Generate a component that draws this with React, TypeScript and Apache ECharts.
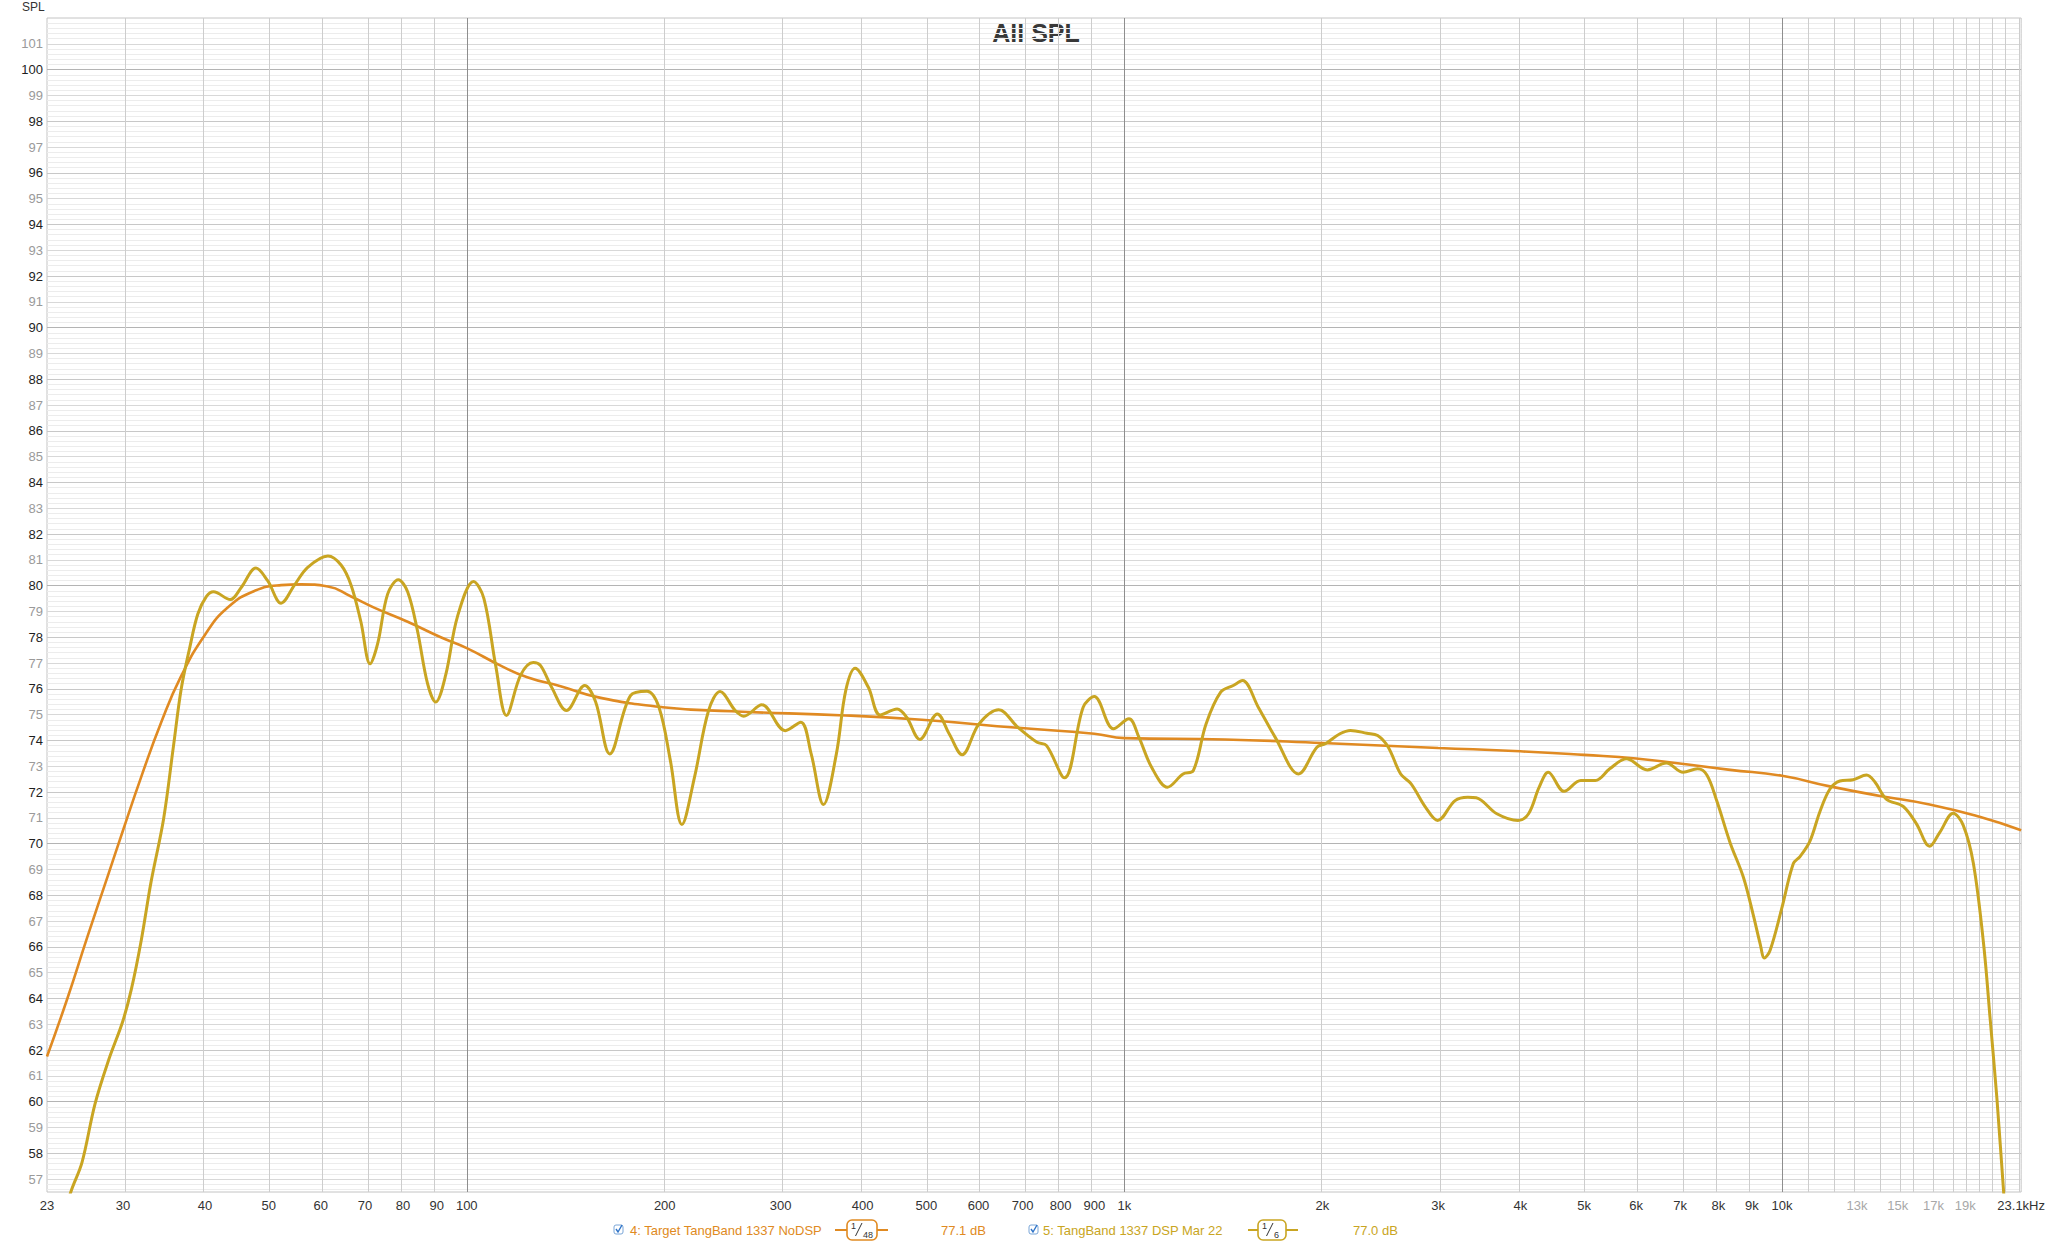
import React, { useEffect, useRef } from 'react';
import * as echarts from 'echarts';

const FONT = '"Liberation Sans", Arial, Helvetica, sans-serif';
const TARGET_COLOR = '#E08A22';
const MEAS_COLOR = '#C9A522';

// Frequency range (Hz) and SPL range (dB)
const F_MIN = 23;
const F_MAX = 23100;
const Y_MIN = 56.5;
const Y_MAX = 102;

// 5: TangBand 1337 DSP Mar 22 (measurement, 1/6 smoothing)
const measFreq = [
  22.2, 23, 24, 25, 26, 27.2, 28.5, 30, 30.9, 32, 33.1, 34.6, 35.8, 36.8, 37.9, 39.0, 40.2, 41.2,
  43.7, 45.4, 47.8, 49.8, 52.2, 54.7, 57.3, 61.5, 64.4, 66.7, 69.0, 71.3, 73.2, 75.8, 78.7,
  81.3, 84.1, 87.2, 89.7, 92.9, 96.8, 102.4, 106.2, 110.7, 114.9, 120.8, 126.2, 129.5, 134.6,
  141.8, 151.1, 157, 165, 177.4, 188, 196, 204, 212.4, 222, 233.2, 242.8, 256, 263.7, 281,
  305, 322, 334, 348.7, 364.8, 377, 389.6, 408, 425.3, 451.3, 466.5, 488.6, 519.4, 541.4,
  566.6, 601, 644, 688.8, 736.6, 761.5, 810.8, 865.6, 900, 962.5, 1016, 1052, 1100, 1163,
  1228, 1273, 1331, 1401, 1464, 1512, 1598, 1695, 1840, 1962, 2021, 2127, 2207, 2337, 2427,
  2519, 2631, 2729, 2871, 2994, 3183, 3328, 3428, 3684, 3967, 4117, 4273, 4411, 4663, 4943,
  5202, 5470, 5799, 6240, 6669, 7073, 7438, 7686, 7959, 8340, 8737, 9047, 9261, 9401, 9589,
  9988, 10404, 10649, 11027, 11421, 11826, 12245, 12831, 13444, 13843, 14419, 15275, 16003,
  16766, 17374, 18204, 18862, 19543, 20250, 20730, 21227, 21735, 22200,
];
const measSpl = [
  52.0, 53.2, 54.9, 56.5, 57.65, 59.9, 61.57, 63.13, 64.35, 66.27, 68.5, 70.97, 73.75, 76.0, 77.58, 78.9, 79.58, 79.76,
  79.46, 79.93, 80.68, 80.19, 79.32, 80.02, 80.71, 81.15, 80.8, 80.02, 78.62, 76.97, 77.75, 79.67, 80.23,
  79.76, 78.28, 76.19, 75.49, 76.54, 78.8, 80.16, 79.5, 76.88, 74.97, 76.54, 77.02, 76.9, 76.06,
  75.16, 76.13, 75.5, 73.48, 75.74, 75.91, 75.29, 73.22, 70.74, 72.58, 75.16, 75.9, 75.16, 74.94, 75.38,
  74.38, 74.71, 73.48, 71.52, 73.48, 75.94, 76.8, 76.06, 74.99, 75.22, 74.9, 74.04, 75.03, 74.26,
  73.45, 74.64, 75.19, 74.51, 73.93, 73.8, 72.55, 75.29, 75.7, 74.45, 74.84, 74.13, 72.96, 72.19,
  72.7, 72.83, 74.64, 75.87, 76.13, 76.32, 75.29, 74.13, 72.7, 73.74, 73.87, 74.26, 74.39, 74.28, 74.19,
  73.74, 72.7, 72.32, 71.41, 70.9, 71.67, 71.8, 71.78, 71.16, 70.9, 71.16, 72.19, 72.77, 72.03, 72.45,
  72.45, 72.9, 73.29, 72.86, 73.13, 72.77, 72.9, 72.66, 71.65, 70.03, 68.69, 67.21, 66.13, 65.57, 65.86,
  67.48, 69.23, 69.5, 70.1, 71.25, 72.12, 72.43, 72.48, 72.66, 72.39, 71.72, 71.45, 70.78,
  69.9, 70.44, 71.18, 70.71, 69.23, 66.13, 63.17, 60.08, 56.44, 53.5,
];

// 4: Target TangBand 1337 NoDSP (1/48 smoothing)
const targetFreq = [
  23, 24.7, 26.5, 28.5, 30, 32, 34.3, 36.8, 40, 43.3, 47.6, 52.2, 56, 61.5, 66.7, 72.3, 81.3,
  91.3, 100, 112.6, 123.6, 138.9, 158, 198.6, 252.7, 377, 492, 689, 900, 1000, 1422, 2000,
  3000, 4000, 5000, 6000, 8340, 10000, 11826, 14087, 16766, 19970, 23100,
];
const targetSpl = [
  61.75, 64.0, 66.4, 68.8, 70.5, 72.6, 74.7, 76.5, 78.1, 79.15, 79.8, 80.02, 80.05, 79.97, 79.58, 79.15, 78.6,
  78.0, 77.58, 76.9, 76.45, 76.1, 75.68, 75.29, 75.13, 74.97, 74.8, 74.49, 74.26, 74.09, 74.04, 73.9,
  73.71, 73.58, 73.44, 73.3, 72.86, 72.63, 72.22, 71.85, 71.52, 71.04, 70.52,
];

// Axis tick labels
const xLabelFreqs = [
  23, 30, 40, 50, 60, 70, 80, 90, 100, 200, 300, 400, 500, 600, 700, 800, 900,
  1000, 2000, 3000, 4000, 5000, 6000, 7000, 8000, 9000, 10000, 13000, 15000, 17000, 19000, 23100,
];
const xGrayLabels = [13000, 15000, 17000, 19000];
const yLabelValues = [
  57, 58, 59, 60, 61, 62, 63, 64, 65, 66, 67, 68, 69, 70, 71, 72, 73, 74, 75, 76, 77, 78, 79,
  80, 81, 82, 83, 84, 85, 86, 87, 88, 89, 90, 91, 92, 93, 94, 95, 96, 97, 98, 99, 100, 101,
];

// Vertical grid frequencies
const xGridFreqs = [
  30, 40, 50, 60, 70, 80, 90, 100, 200, 300, 400, 500, 600, 700, 800, 900, 1000, 2000, 3000,
  4000, 5000, 6000, 7000, 8000, 9000, 10000, 11000, 12000, 13000, 14000, 15000, 16000, 17000,
  18000, 19000, 20000, 21000, 22000, 23000,
];
const xMajorGridFreqs = [100, 1000, 10000];

const lg = (f: number) => Math.log10(f);

function fmtFreq(v: number | string) {
  const f = Math.round(Math.pow(10, Number(v)));
  if (f >= 23050) return '23.1kHz';
  if (f >= 1000) return f / 1000 + 'k';
  return String(f);
}

function buildGridLines() {
  const lines: any[] = [];
  for (let i = Math.ceil(Y_MIN * 5); i <= Math.floor(Y_MAX * 5); i++) {
    const v = i / 5;
    if (v <= Y_MIN || v >= Y_MAX) continue;
    let color = '#ececec';
    if (i % 5 === 0) {
      const n = i / 5;
      if (n % 10 === 0) color = '#b4b4b4';
      else if (n % 2 === 0) color = '#c8c8c8';
      else color = '#d8d8d8';
    }
    lines.push({ yAxis: v, lineStyle: { color, width: 1, type: 'solid' } });
  }
  xGridFreqs.forEach((f) => {
    const major = xMajorGridFreqs.indexOf(f) >= 0;
    lines.push({ xAxis: lg(f), lineStyle: { color: major ? '#8e8e8e' : '#cdcdcd', width: 1, type: 'solid' } });
  });
  return lines;
}

function legendGraphics() {
  const cy = 1230;
  const els: any[] = [];
  const checkbox = (x: number) => {
    els.push({ type: 'rect', shape: { x, y: cy - 5, width: 9, height: 9, r: 2 }, style: { fill: '#fff', stroke: '#7aa6d8', lineWidth: 1 } });
    els.push({ type: 'polyline', shape: { points: [[x + 2, cy - 1], [x + 4, cy + 2], [x + 8, cy - 5]] }, style: { stroke: '#2f74c8', lineWidth: 1.4, fill: 'none' } });
  };
  const text = (x: number, s: string, color: string, size = 13) => {
    els.push({ type: 'text', x, y: cy, style: { text: s, fill: color, font: `${size}px ${FONT}`, verticalAlign: 'middle', textVerticalAlign: 'middle', align: 'left', textAlign: 'left' } });
  };
  const fracBox = (x0: number, boxX: number, boxW: number, x1: number, den: string, color: string) => {
    els.push({ type: 'line', shape: { x1: x0, y1: cy, x2: boxX, y2: cy }, style: { stroke: color, lineWidth: 2 } });
    els.push({ type: 'line', shape: { x1: boxX + boxW, y1: cy, x2: x1, y2: cy }, style: { stroke: color, lineWidth: 2 } });
    els.push({ type: 'rect', shape: { x: boxX, y: cy - 10, width: boxW, height: 20, r: 5 }, style: { fill: '#fff', stroke: color, lineWidth: 1.6 } });
    els.push({ type: 'text', x: boxX + 4, y: cy - 4, style: { text: '1', fill: '#333', font: `9px ${FONT}`, verticalAlign: 'middle', textVerticalAlign: 'middle' } });
    els.push({ type: 'line', shape: { x1: boxX + 8.5, y1: cy + 6, x2: boxX + 15, y2: cy - 7 }, style: { stroke: '#333', lineWidth: 1 } });
    els.push({ type: 'text', x: boxX + 16, y: cy + 5, style: { text: den, fill: '#333', font: `9px ${FONT}`, verticalAlign: 'middle', textVerticalAlign: 'middle' } });
  };
  checkbox(614);
  text(630, '4: Target TangBand 1337 NoDSP', TARGET_COLOR);
  fracBox(835, 847, 30, 888, '48', TARGET_COLOR);
  text(941, '77.1 dB', TARGET_COLOR);
  checkbox(1029);
  text(1043, '5: TangBand 1337 DSP Mar 22', MEAS_COLOR);
  fracBox(1248, 1258, 28, 1298, '6', MEAS_COLOR);
  text(1353, '77.0 dB', MEAS_COLOR);
  return els;
}

export default function App() {
  const ref = useRef<HTMLDivElement>(null);
  useEffect(() => {
    if (!ref.current) return;
    const chart = echarts.init(ref.current, null, { renderer: 'svg' });
    const option: any = {
      animation: false,
      backgroundColor: '#ffffff',
      textStyle: { fontFamily: FONT },
      grid: { left: 47, top: 18, right: 23, bottom: 51, show: true, borderColor: '#c4c4c4', borderWidth: 1, backgroundColor: 'transparent' },
      xAxis: {
        type: 'value',
        min: lg(F_MIN),
        max: lg(F_MAX),
        axisLine: { show: false },
        axisTick: { show: false },
        splitLine: { show: false },
        axisLabel: {
          customValues: xLabelFreqs.map(lg),
          formatter: (v: number) => fmtFreq(v),
          color: (v: any) => (xGrayLabels.indexOf(Math.round(Math.pow(10, Number(v)))) >= 0 ? '#a8a8a8' : '#333333'),
          fontSize: 13,
          fontFamily: FONT,
          margin: 7,
        },
      },
      yAxis: {
        type: 'value',
        min: Y_MIN,
        max: Y_MAX,
        axisLine: { show: false },
        axisTick: { show: false },
        splitLine: { show: false },
        axisLabel: {
          customValues: yLabelValues,
          formatter: (v: number) => String(Math.round(v)),
          color: (v: any) => (Math.round(Number(v)) % 2 === 0 ? '#1e1e1e' : '#9a9a9a'),
          fontSize: 13,
          fontFamily: FONT,
          margin: 4,
        },
      },
      graphic: [
        { type: 'text', x: 22, y: 7, style: { text: 'SPL', fill: '#333', font: `12px ${FONT}`, verticalAlign: 'middle', textVerticalAlign: 'middle' } },
        { type: 'text', x: 1036, y: 33, style: { text: 'All SPL', fill: '#383838', font: `bold 25px ${FONT}`, align: 'center', textAlign: 'center', verticalAlign: 'middle', textVerticalAlign: 'middle' } },
        ...legendGraphics(),
      ],
      series: [
        {
          type: 'line',
          name: 'grid',
          data: [[lg(F_MIN), 60]],
          symbol: 'none',
          lineStyle: { width: 0 },
          silent: true,
          z: 1,
          markLine: {
            z: 1,
            silent: true,
            symbol: ['none', 'none'],
            label: { show: false },
            emphasis: { disabled: true },
            animation: false,
            data: buildGridLines(),
          },
        },
        {
          type: 'line',
          name: '4: Target TangBand 1337 NoDSP',
          data: targetFreq.map((f, i) => [lg(f), targetSpl[i]]),
          symbol: 'none',
          smooth: 0.5,
          clip: true,
          lineStyle: { color: TARGET_COLOR, width: 2.6 },
          z: 6,
        },
        {
          type: 'line',
          name: '5: TangBand 1337 DSP Mar 22',
          data: measFreq.map((f, i) => [lg(f), measSpl[i]]),
          symbol: 'none',
          smooth: 0.35,
          clip: true,
          lineStyle: { color: MEAS_COLOR, width: 3 },
          z: 7,
        },
      ],
    };
    chart.setOption(option);
    return () => chart.dispose();
  }, []);
  return <div ref={ref} style={{ position: 'absolute', left: 0, top: 0, width: 2048, height: 1243, background: '#fff' }} />;
}
